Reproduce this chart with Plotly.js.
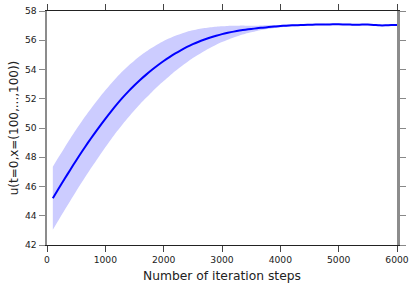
<!DOCTYPE html>
<html>
<head>
<meta charset="utf-8">
<script src="https://cdn.plot.ly/plotly-3.0.1.min.js"></script>
<style>html,body{margin:0;padding:0;background:#fff;}#chart{width:415px;height:290px;}</style>
</head>
<body>
<div id="chart"></div>
<script>
const steps = [100,200,300,400,500,600,700,800,900,1000,1100,1200,1300,1400,1500,1600,1700,1800,1900,2000,
  2100,2200,2300,2400,2500,2600,2700,2800,2900,3000,3100,3200,3300,3400,3500,3600,3700,3800,3900,4000,
  4100,4200,4300,4400,4500,4600,4700,4800,4900,5000,5100,5200,5300,5400,5500,5600,5700,5800,5900,6000];
const meanU = [45.20,45.86,46.51,47.15,47.78,48.39,48.98,49.55,50.10,50.63,51.14,51.63,52.09,52.52,52.92,53.30,53.65,53.98,54.29,54.58,
  54.85,55.10,55.33,55.54,55.73,55.90,56.05,56.19,56.31,56.42,56.51,56.59,56.66,56.72,56.77,56.82,56.86,56.90,56.94,56.97,
  57.00,57.02,57.03,57.05,57.06,57.07,57.08,57.08,57.09,57.09,57.08,57.07,57.06,57.07,57.07,57.05,57.02,57.02,57.04,57.04];
const upperU = [47.35,48.01,48.65,49.28,49.89,50.48,51.04,51.58,52.09,52.58,53.05,53.49,53.90,54.28,54.62,54.94,55.23,55.49,55.73,55.95,
  56.14,56.31,56.45,56.58,56.68,56.77,56.83,56.89,56.93,56.96,56.98,56.99,57.00,57.00,57.00,57.00,57.01,57.02,57.04,57.05,
  57.07,57.08,57.08,57.10,57.10,57.11,57.12,57.12,57.13,57.13,57.12,57.11,57.10,57.11,57.11,57.09,57.06,57.06,57.08,57.08];
const lowerU = [43.05,43.71,44.37,45.02,45.67,46.30,46.92,47.52,48.11,48.68,49.23,49.77,50.28,50.76,51.22,51.66,52.07,52.47,52.85,53.21,
  53.56,53.89,54.21,54.50,54.78,55.03,55.27,55.49,55.69,55.88,56.04,56.19,56.32,56.44,56.54,56.64,56.71,56.78,56.84,56.89,
  56.93,56.96,56.98,57.00,57.02,57.03,57.04,57.04,57.05,57.05,57.04,57.03,57.02,57.03,57.03,57.01,56.98,56.98,57.00,57.00];
const xTicks = [0,1000,2000,3000,4000,5000,6000];
const yTicks = [42,44,46,48,50,52,54,56,58];

const font = 'DejaVu Sans, sans-serif';
const traces = [
  {x: steps, y: lowerU, type: 'scatter', mode: 'lines', line: {width: 0, color: 'rgba(0,0,0,0)', shape: 'spline', smoothing: 0.8}, hoverinfo: 'skip', showlegend: false},
  {x: steps, y: upperU, type: 'scatter', mode: 'lines', line: {width: 0, color: 'rgba(0,0,0,0)', shape: 'spline', smoothing: 0.8}, fill: 'tonexty', fillcolor: 'rgb(204,204,255)', showlegend: false},
  {x: steps, y: meanU, type: 'scatter', mode: 'lines', line: {width: 2, color: 'rgb(0,0,255)', shape: 'spline', smoothing: 0.8}, showlegend: false}
];
const layout = {
  width: 415, height: 290,
  margin: {l: 47, r: 18, t: 11, b: 45, pad: 0},
  paper_bgcolor: '#fff', plot_bgcolor: '#fff',
  font: {family: font, color: '#222'},
  showlegend: false,
  xaxis: {
    range: [0, 6000], tickvals: xTicks, ticktext: xTicks.map(String),
    ticks: 'outside', ticklen: 6, tickwidth: 1, tickcolor: '#444',
    showline: true, linecolor: '#222', linewidth: 1, mirror: 'allticks',
    showgrid: false, zeroline: false,
    tickfont: {family: font, size: 9.2, color: '#222'},
    title: {text: 'Number of iteration steps', font: {family: font, size: 12.3, color: '#222'}, standoff: 7}
  },
  yaxis: {
    range: [42, 58], tickvals: yTicks, ticktext: yTicks.map(String),
    ticks: 'outside', ticklen: 6, tickwidth: 1, tickcolor: '#888',
    showline: true, linecolor: '#8c8c8c', linewidth: 2.5, mirror: 'allticks',
    showgrid: false, zeroline: false,
    tickfont: {family: font, size: 9.2, color: '#222'},
    title: {text: 'u(t=0,x=(100,...,100))', font: {family: font, size: 12, color: '#222'}, standoff: 4}
  }
};
Plotly.newPlot('chart', traces, layout, {staticPlot: true, displayModeBar: false});
</script>
</body>
</html>
